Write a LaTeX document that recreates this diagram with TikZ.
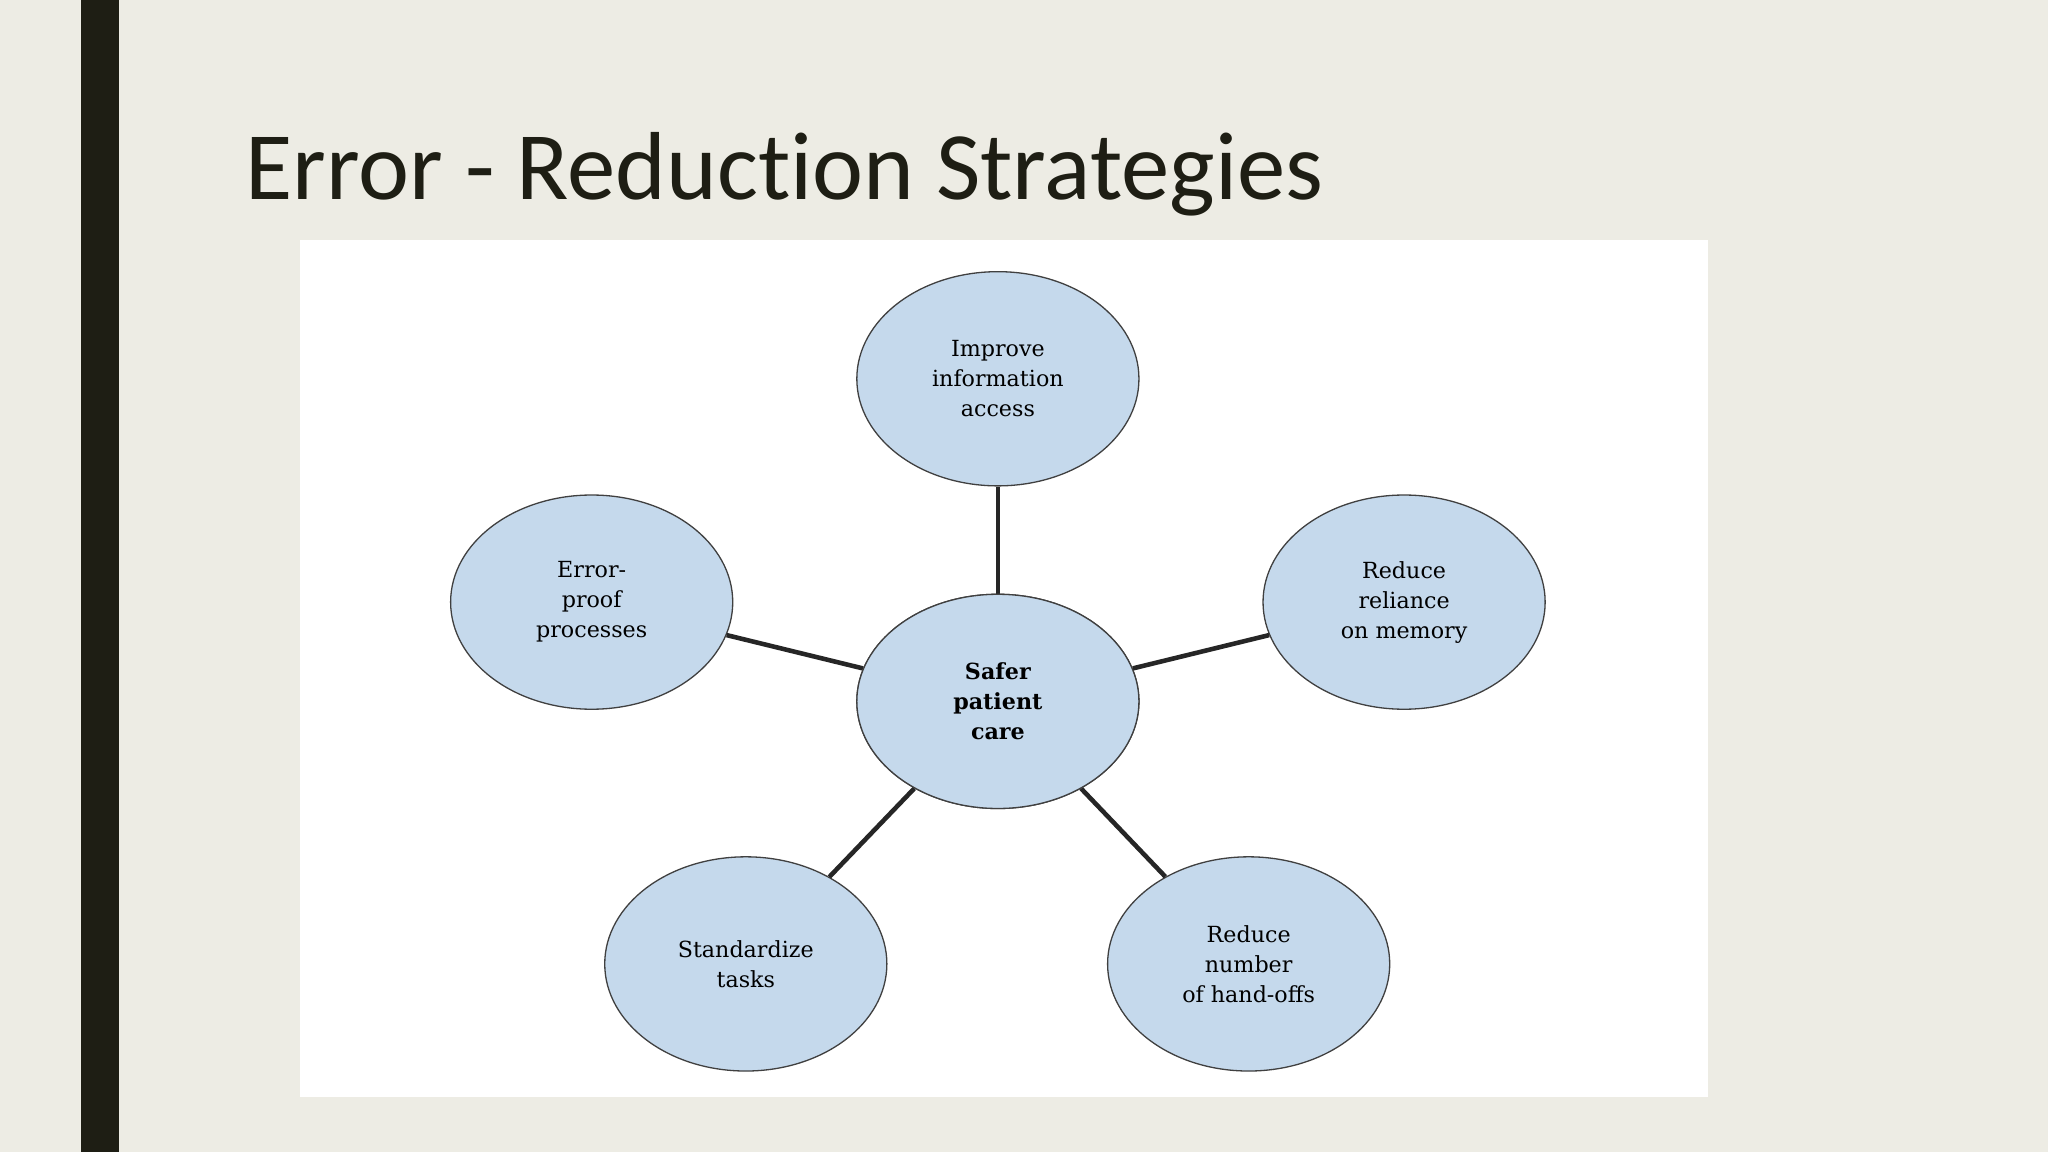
\documentclass[tikz,border=0pt]{standalone}
\usepackage{fontspec}
\usetikzlibrary{shapes.geometric}
\setmainfont{DejaVu Serif}
\newfontfamily\titlefont[Ligatures={NoCommon}]{Carlito}
\definecolor{bg}{HTML}{EDECE4}
\definecolor{bar}{HTML}{1E1E14}
\definecolor{ell}{HTML}{C5D9EC}
\begin{document}
\begin{tikzpicture}[x=1pt,y=-1pt,
  bub/.style={ellipse,draw=black!75,line width=1pt,fill=ell,minimum width=216pt,minimum height=164pt,inner sep=0pt,align=center,font=\fontsize{17}{23}\selectfont},
  conn/.style={line width=3.5pt,black!85}]
\useasboundingbox (0,0) rectangle (1568,882);
\fill[bg] (0,0) rectangle (1568,882);
\fill[bar] (62,0) rectangle (91,882);
\node[anchor=base west,inner sep=0pt,font=\titlefont\fontsize{74}{88}\selectfont,text=bar] (title) at (188,153) {Error - Reduction Strategies};
\fill[white] (230,184) rectangle (1308,840);
\node[bub] (c) at (764,537) {};
\node[bub] (t) at (764,290) {Improve\\information\\access};
\node[bub] (l) at (453,461) {Error-\\proof\\processes};
\node[bub] (r) at (1075,461) {Reduce\\reliance\\on memory};
\node[bub] (bl) at (571,738) {Standardize\\tasks};
\node[bub] (br) at (956,738) {Reduce\\number\\of hand-offs};
\draw[conn] (c) -- (t);
\draw[conn] (c) -- (l);
\draw[conn] (c) -- (r);
\draw[conn] (c) -- (bl);
\draw[conn] (c) -- (br);
\node[bub,font=\bfseries\fontsize{17}{23}\selectfont] (c2) at (764,537) {Safer\\patient\\care};
\end{tikzpicture}
\end{document}
